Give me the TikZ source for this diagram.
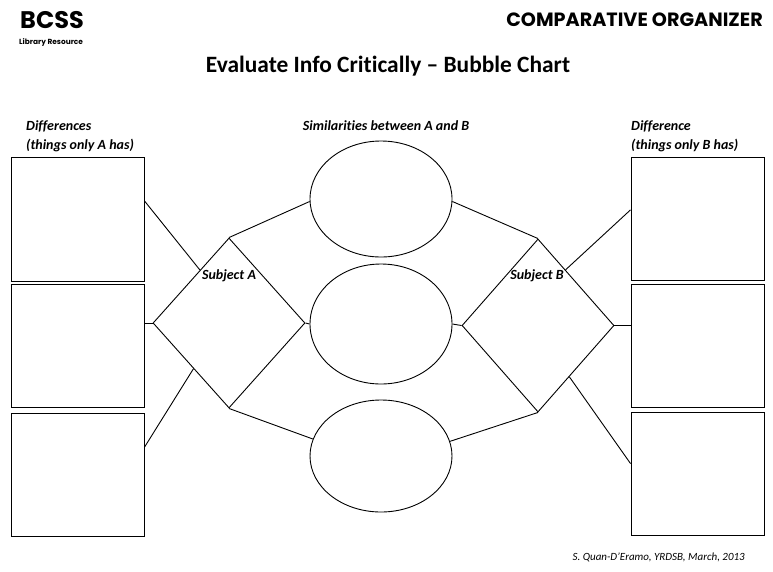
\documentclass[tikz,border=0pt]{standalone}
\usepackage{fontspec}
\setmainfont{Carlito}[Ligatures=NoCommon]
\newfontfamily\headfont{Poppins}
\usetikzlibrary{shapes.geometric,calc}
\begin{document}
\begin{tikzpicture}[x=1pt,y=-1pt,
  line/.style={draw=black,line width=0.9pt},
  boxnode/.style={line, rectangle, inner sep=0pt, minimum width=133pt, minimum height=124pt},
  bubble/.style={line, ellipse, inner sep=0pt, minimum width=142pt},
  subj/.style={line, diamond, inner sep=0pt, minimum width=152pt, minimum height=171pt},
  lab/.style={font=\bfseries\itshape\fontsize{14}{16}\selectfont, inner sep=0pt},
]
\useasboundingbox (0,0) rectangle (773,571);
% headings
\node[anchor=west, inner sep=0pt, font=\headfont\bfseries\fontsize{24}{26}\selectfont] (bcss) at (20,20) {BCSS};
\node[anchor=west, inner sep=0pt, font=\headfont\bfseries\fontsize{7.4}{8}\selectfont] (lib) at (19,43) {Library Resource};
\node[anchor=east, inner sep=0pt, font=\headfont\bfseries\fontsize{19.2}{22}\selectfont] (comp) at (763,20) {COMPARATIVE ORGANIZER};
\node[inner sep=0pt, font=\bfseries\fontsize{23.4}{26}\selectfont] (title) at (388,66) {Evaluate Info Critically -- Bubble Chart};
% column labels
\node[lab, anchor=west] (difA1) at (26,126) {Differences};
\node[lab, anchor=west] (difA2) at (26,145) {(things only A has)};
\node[lab] (sim) at (386,126) {Similarities between A and B};
\node[lab, anchor=west] (difB1) at (631,126) {Difference};
\node[lab, anchor=west] (difB2) at (631,145) {(things only B has)};
% boxes
\node[boxnode, minimum height=124pt] (a1) at (77.5,219) {};
\node[boxnode, minimum height=123pt] (a2) at (77.5,345.5) {};
\node[boxnode, minimum height=123pt] (a3) at (77.5,474.5) {};
\node[boxnode, minimum height=123pt] (b1) at (697.5,218.5) {};
\node[boxnode, minimum height=123pt] (b2) at (697.5,345.5) {};
\node[boxnode, minimum height=123pt] (b3) at (697.5,473.5) {};
% bubbles
\node[bubble, minimum height=116pt] (e1) at (381,199) {};
\node[bubble, minimum height=120pt] (e2) at (381,324) {};
\node[bubble, minimum height=112pt] (e3) at (381,456) {};
% diamonds
\node[subj, minimum height=170pt] (dA) at (229,323) {};
\node[subj, minimum height=173pt] (dB) at (538,325.5) {};
\node[lab] (sA) at (229,276) {Subject A};
\node[lab] (sB) at (537,276) {Subject B};
% connector points on diamond edges
\coordinate (pA1) at ($(dA.north)!0.38!(dA.west)$);
\coordinate (pA3) at ($(dA.west)!0.535!(dA.south)$);
\coordinate (pB1) at ($(dB.north)!0.36!(dB.east)$);
\coordinate (pB3) at ($(dB.east)!0.59!(dB.south)$);
\coordinate (qa1) at ($(a1.north east)!0.355!(a1.south east)$);
\coordinate (qa3) at ($(a3.north east)!0.28!(a3.south east)$);
\coordinate (qb1) at ($(b1.north west)!0.43!(b1.south west)$);
\coordinate (qb3) at ($(b3.north west)!0.42!(b3.south west)$);
% connectors
\draw[line] (qa1) -- (pA1);
\draw[line] (a2.east |- dA.west) -- (dA.west);
\draw[line] (qa3) -- (pA3);
\draw[line] (dA.north) -- (e1.182);
\draw[line] (dA.east) -- (e2.west);
\draw[line] (dA.south) -- (e3.166);
\draw[line] (e1.358) -- (dB.north);
\draw[line] (e2.east) -- (dB.west);
\draw[line] (e3.12) -- (dB.south);
\draw[line] (pB1) -- (qb1);
\draw[line] (dB.east) -- (b2.west |- dB.east);
\draw[line] (pB3) -- (qb3);
% footer
\node[anchor=east, inner sep=0pt, font=\itshape\fontsize{11}{13}\selectfont] (foot) at (745,557) {S. Quan-D’Eramo, YRDSB, March, 2013};
\end{tikzpicture}
\end{document}
